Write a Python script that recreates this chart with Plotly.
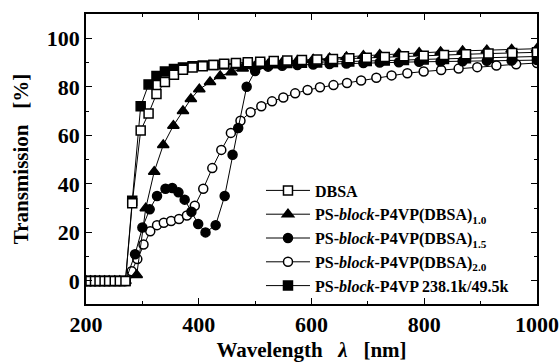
import plotly.graph_objects as go

# ---- data ----
lam_dbsa = [200, 208, 216, 224, 233, 241, 251, 260, 270, 282, 297, 311, 325, 340, 356, 372, 389, 407, 426,
            445, 466, 487, 509, 533, 557, 583, 610, 638, 667, 698, 730, 764, 799, 835, 874, 914, 956, 1000]
t_dbsa = [0, 0, 0, 0, 0, 0, 0, 0, 0, 32, 62, 69, 77, 82, 85, 87, 88, 88.5, 89, 89.5, 89.8, 90.1, 90.3, 90.6,
          90.8, 91.0, 91.2, 91.5, 91.8, 92.0, 92.3, 92.6, 92.8, 93.1, 93.4, 93.7, 93.9, 94.2]

lam_p4vp = [200, 208, 216, 224, 233, 241, 251, 260, 270, 282, 297, 311, 325, 340, 356, 372, 389, 407, 426,
            445, 466, 487, 509, 533, 557, 583, 610, 638, 667, 698, 730, 764, 799, 835, 874, 914, 956, 1000]
t_p4vp = [0, 0, 0, 0, 0, 0, 0, 0, 0, 33, 72, 81, 84.5, 86.3, 87.3, 88, 88.5, 88.8, 89.0, 89.2, 89.3, 89.4,
          89.5, 89.7, 89.8, 89.9, 90.0, 90.2, 90.4, 90.6, 90.8, 91.0, 91.3, 91.5, 91.8, 92.0, 92.3, 92.5]

lam_10 = [200, 208, 216, 224, 233, 241, 251, 260, 270, 290, 306, 321, 337, 355, 372, 386, 401, 420, 438, 458,
          478, 500, 523, 548, 575, 603, 632, 662, 692, 721, 755, 791, 829, 868, 911, 955, 1000]
t_10 = [0, 0, 0, 0, 0, 0, 0, 0, 0, 2.5, 30, 45, 56, 64, 70, 75, 79, 82, 84.5, 86, 87.5, 88.5, 89.3, 90,
        90.7, 91.3, 91.8, 92.3, 92.8, 93.2, 93.6, 94.0, 94.4, 94.8, 95.1, 95.4, 95.7]

lam_15 = [200, 208, 216, 224, 233, 241, 251, 260, 270, 287, 300, 313, 326, 341, 353, 364, 375, 387, 399, 412,
          430, 446, 460, 470, 485, 500, 523, 548, 575, 603, 632, 662, 692, 721, 755, 791, 829, 868, 911, 955, 1000]
t_15 = [0, 0, 0, 0, 0, 0, 0, 0, 0, 11, 22, 29.5, 35, 38, 38.3, 36.5, 33.5, 28.5, 23.5, 20, 23, 35, 52, 63, 80,
        86.5, 88.3, 88.7, 89, 89.2, 89.4, 89.6, 89.8, 90.0, 90.1, 90.3, 90.4, 90.5, 90.7, 90.8, 91]

lam_20 = [200, 208, 216, 224, 233, 241, 251, 260, 270, 281, 291, 302, 314, 326, 338, 351, 365, 379, 393, 408,
          424, 440, 457, 474, 492, 511, 530, 550, 571, 593, 615, 639, 663, 688, 715, 742, 770, 799, 830, 861,
          894, 928, 963, 1000]
t_20 = [0, 0, 0, 0, 0, 0, 0, 0, 0, 4, 9, 15, 20.5, 23, 24, 24.7, 25.5, 27, 31, 38, 46.5, 54, 61, 66, 69.5,
        72, 74, 75.6, 77.3, 78.7, 79.8, 80.7, 81.6, 82.6, 83.7, 84.7, 85.6, 86.3, 86.9, 87.5, 88.1, 88.8,
        89.3, 89.8]

x_ticks = [200, 400, 600, 800, 1000]
y_ticks = [0, 20, 40, 60, 80, 100]

FONT = "Liberation Serif"

series = [
    # name, x, y, symbol, fill, legend rank, size
    ("<b>PS-<i>block</i>-P4VP(DBSA)<sub>2.0</sub></b>", lam_20, t_20, "circle", "white", 4, 9),
    ("<b>PS-<i>block</i>-P4VP(DBSA)<sub>1.5</sub></b>", lam_15, t_15, "circle", "black", 3, 9),
    ("<b>PS-<i>block</i>-P4VP(DBSA)<sub>1.0</sub></b>", lam_10, t_10, "triangle-up", "black", 2, 10),
    ("<b>PS-<i>block</i>-P4VP 238.1k/49.5k</b>", lam_p4vp, t_p4vp, "square", "black", 5, 9),
    ("<b>DBSA</b>", lam_dbsa, t_dbsa, "square", "white", 1, 9),
]

fig = go.Figure()
for name, xs, ys, sym, fill, rank, size in series:
    fig.add_trace(go.Scatter(
        x=xs, y=ys, mode="lines+markers", name=name, legendrank=rank,
        line=dict(color="black", width=1),
        marker=dict(symbol=sym, size=size, color=fill, line=dict(color="black", width=1.5)),
    ))

axis_common = dict(
    showline=True, linecolor="black", linewidth=1.5, mirror="allticks",
    ticks="inside", ticklen=6, tickwidth=1.2, tickcolor="black",
    showgrid=False, zeroline=False, automargin=False,
    tickfont=dict(family=FONT, size=22, color="black"),
)

fig.update_xaxes(range=[200, 1000], tickvals=x_ticks,
                 ticktext=["<b>%d</b>" % v for v in x_ticks],
                 minor=dict(ticks="inside", ticklen=3, dtick=100, tick0=200, tickcolor="black"),
                 title=dict(text="<b>Wavelength&nbsp;&nbsp;&nbsp;<i>λ</i>&nbsp;&nbsp;&nbsp;[nm]</b>", standoff=6,
                            font=dict(family=FONT, size=21, color="black")),
                 **axis_common)
fig.update_yaxes(range=[-9.5, 110], tickvals=y_ticks,
                 ticktext=["<b>%d</b>" % v for v in y_ticks],
                 minor=dict(ticks="inside", ticklen=3, dtick=10, tick0=0, tickcolor="black"),
                 title=dict(text="<b>Transmission&nbsp;&nbsp;&nbsp;[%]</b>", standoff=12,
                            font=dict(family=FONT, size=21, color="black")),
                 **axis_common)

fig.update_layout(
    width=560, height=364,
    margin=dict(l=86, r=23, t=14, b=60),
    paper_bgcolor="white", plot_bgcolor="white",
    font=dict(family=FONT, color="black"),
    legend=dict(x=0.388, y=0.45, xanchor="left", yanchor="top",
                bgcolor="rgba(0,0,0,0)", itemwidth=44, tracegroupgap=0,
                font=dict(family=FONT, size=16, color="black")),
)

fig.write_html("out.html")
